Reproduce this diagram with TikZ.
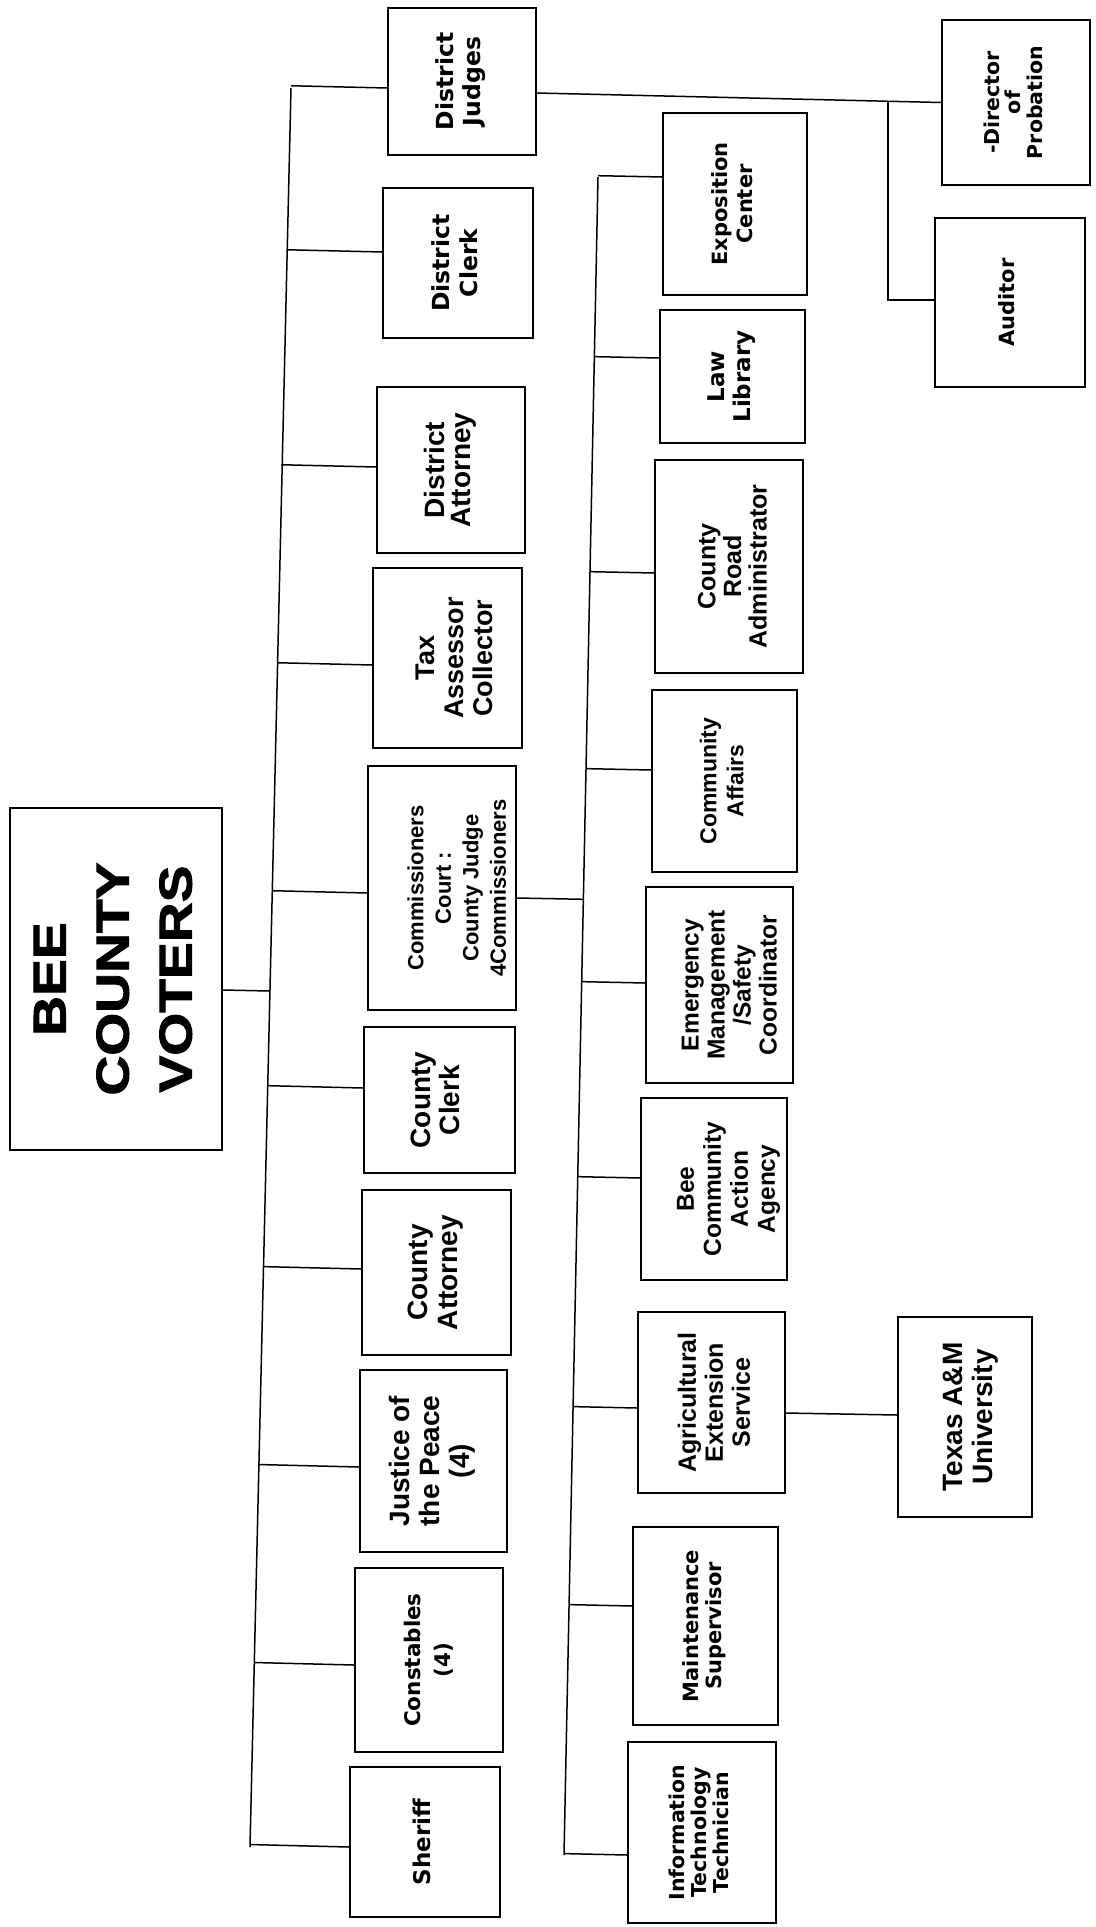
\documentclass[tikz,border=0pt]{standalone}
\usepackage{fontspec}
\usepackage{graphicx}
\usetikzlibrary{calc}
\newfontfamily\FA{Liberation Sans}
\newfontfamily\FV{DejaVu Sans}
\newfontfamily\FB{Liberation Sans}[FakeStretch=1.2,FakeBold=2]
\newcommand\vtxt[4]{\rotatebox{90}{#1\bfseries\fontsize{#2}{#3}\selectfont\begin{tabular}{@{}c@{}}#4\end{tabular}}}
% branch from trunk (#3t--#3b) to west side of node #1, shifted by #2 pt
\newcommand\lbranch[3]{\coordinate (#1c) at ([yshift=#2pt]#1.west); \draw[ln] ($(#3t)!(#1c)!(#3b)$) -- (#1c);}
\begin{document}
\begin{tikzpicture}[x=1pt,y=-1pt,
  box/.style={draw,line width=1.5pt,inner sep=0pt,fill=white},
  lbl/.style={inner sep=0pt},
  ln/.style={line width=1.5pt}]
\useasboundingbox (0,0) rectangle (1095,1927);
\fill[white] (0,0) rectangle (1095,1927);

% root
\node[box,minimum width=212pt,minimum height=342pt] (voters) at (116,979) {\vtxt{\FB}{46}{63}{BEE\\COUNTY\\VOTERS}};

% left column
\node[box,minimum width=148pt,minimum height=147pt] (dj) at (462,81.5) {\vtxt{\FV}{23.5}{27}{District\\Judges}};
\node[box,minimum width=150pt,minimum height=150pt] (dc) at (458,263) {\vtxt{\FV}{23.5}{28}{District\\Clerk}};
\node[box,minimum width=148pt,minimum height=166pt] (da) at (451,470) {\vtxt{\FA}{28}{25}{District\\Attorney}};
\node[box,minimum width=149pt,minimum height=180pt] (tax) at (447.5,658) {};
\node[lbl] (taxt) at ([xshift=10pt]tax.center) {\vtxt{\FA}{27}{29}{Tax\\Assessor\\Collector}};
\node[box,minimum width=148pt,minimum height=244pt] (cc) at (442,888) {};
\node[lbl] (cct) at ([xshift=17pt]cc.center) {\vtxt{\FA}{22}{27.5}{Commissioners\\Court :\\County Judge\\4Commissioners}};
\node[box,minimum width=151pt,minimum height=146pt] (ccl) at (439.5,1100) {\vtxt{\FA}{28}{29}{County\\Clerk}};
\node[box,minimum width=149pt,minimum height=165pt] (ca) at (436.5,1272.5) {\vtxt{\FA}{28}{30}{County\\Attorney}};
\node[box,minimum width=147pt,minimum height=182pt] (jp) at (433.5,1461) {\vtxt{\FA}{28}{30}{Justice of\\the Peace\\(4)}};
\node[box,minimum width=148pt,minimum height=184pt] (con) at (429,1660) {\vtxt{\FV}{21.5}{30}{Constables\\(4)}};
\node[box,minimum width=150pt,minimum height=150pt] (sh) at (425,1842) {\vtxt{\FV}{23}{25}{Sheriff}};

% middle column
\node[box,minimum width=144pt,minimum height=182pt] (exp) at (735,204) {\vtxt{\FV}{21}{25}{Exposition\\Center}};
\node[box,minimum width=145pt,minimum height=133pt] (law) at (732.5,376.5) {\vtxt{\FV}{23}{26}{Law\\Library}};
\node[box,minimum width=148pt,minimum height=213pt] (cra) at (729,566.5) {};
\node[lbl] (crat) at ([xshift=7pt]cra.center) {\vtxt{\FA}{25}{25}{County\\Road\\Administrator}};
\node[box,minimum width=145pt,minimum height=182pt] (coma) at (724.5,781) {\vtxt{\FA}{23}{27}{Community\\Affairs}};
\node[box,minimum width=147pt,minimum height=196pt] (em) at (719.5,985) {};
\node[lbl] (emt) at ([xshift=13pt]em.center) {\vtxt{\FA}{24.5}{26}{Emergency\\Management\\/Safety\\Coordinator}};
\node[box,minimum width=146pt,minimum height=182pt] (bca) at (714,1189) {};
\node[lbl] (bcat) at ([xshift=15pt]bca.center) {\vtxt{\FA}{24.5}{27}{Bee\\Community\\Action\\Agency}};
\node[box,minimum width=147pt,minimum height=181pt] (ag) at (711.5,1402.5) {};
\node[lbl] (agt) at ([xshift=6pt]ag.center) {\vtxt{\FA}{25}{27}{Agricultural\\Extension\\Service}};
\node[box,minimum width=145pt,minimum height=198pt] (ms) at (705.5,1626) {\vtxt{\FV}{21}{22}{Maintenance\\Supervisor}};
\node[box,minimum width=148pt,minimum height=181pt] (it) at (702,1832.5) {\vtxt{\FV}{20.5}{20.5}{Information\\Technology\\Technician}};

% right column
\node[box,minimum width=148pt,minimum height=165pt] (dir) at (1016,102.5) {\vtxt{\FV}{20.5}{19.5}{-Director\\of\\Probation}};
\node[box,minimum width=150pt,minimum height=169pt] (aud) at (1010,302.5) {\vtxt{\FV}{21}{23}{Auditor}};
\node[box,minimum width=134pt,minimum height=200pt] (tamu) at (965,1417) {};
\node[lbl] (tamut) at ([xshift=6pt]tamu.center) {\vtxt{\FA}{28}{30}{Texas A\&M\\University}};

% trunks
\coordinate (T1t) at (291,88);
\coordinate (T1b) at (250,1847);
\coordinate (T2t) at (598,177);
\coordinate (T2b) at (564,1855);
\draw[ln] (T1t) -- (T1b);
\draw[ln] (T2t) -- (T2b);

% root to trunk 1
\coordinate (vc) at ([yshift=-11pt]voters.east);
\draw[ln] (vc) -- ($(T1t)!(vc)!(T1b)$);

% left branches
\lbranch{dj}{-6.5}{T1}
\lbranch{dc}{11}{T1}
\lbranch{da}{3}{T1}
\lbranch{tax}{-7}{T1}
\lbranch{cc}{-5}{T1}
\lbranch{ccl}{12}{T1}
\lbranch{ca}{3.5}{T1}
\lbranch{jp}{-6}{T1}
\lbranch{con}{-5}{T1}
\lbranch{sh}{-5}{T1}

% commissioners to trunk 2
\coordinate (cce) at ([yshift=-10pt]cc.east);
\draw[ln] (cce) -- ($(T2t)!(cce)!(T2b)$);

% middle branches
\lbranch{exp}{27}{T2}
\lbranch{law}{18.5}{T2}
\lbranch{cra}{-6.5}{T2}
\lbranch{coma}{11}{T2}
\lbranch{em}{2}{T2}
\lbranch{bca}{11}{T2}
\lbranch{ag}{-5.5}{T2}
\lbranch{ms}{20}{T2}
\lbranch{it}{-22.5}{T2}

% district judges to probation / auditor
\coordinate (dje) at ([yshift=-11.5pt]dj.east);
\draw[ln] (dje) -- (dir.west);
\coordinate (jn) at ($(dje)!(888,100)!(dir.west)$);
\coordinate (audw) at ([yshift=2.5pt]aud.west);
\draw[ln] (jn) |- (audw);

% agricultural extension to Texas A&M
\draw[ln] ([yshift=-10.5pt]ag.east) -- ([yshift=2pt]tamu.west);
\end{tikzpicture}
\end{document}
